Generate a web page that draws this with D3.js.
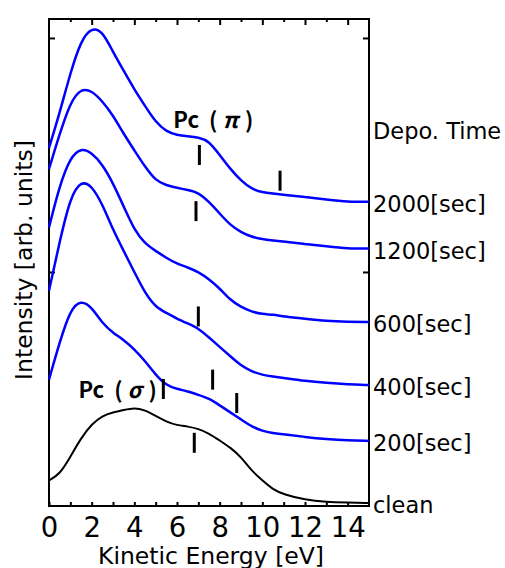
<!DOCTYPE html>
<html>
<head>
<meta charset="utf-8">
<script src="https://cdn.jsdelivr.net/npm/d3@7"></script>
<style>
body { margin: 0; background: #fff; }
text { font-family: "DejaVu Sans", sans-serif; fill: #000; }
</style>
</head>
<body>
<svg id="chart" width="505" height="568"></svg>
<script>
// kinetic energy grid [eV]
var energy = [0, 0.5, 1, 1.5, 2, 2.5, 3, 3.5, 4, 4.5, 5, 5.5, 6, 6.5, 7, 7.5, 8, 8.5, 9, 9.5, 10, 10.5, 11, 12, 13, 14, 15];

// intensities (offset stacked, arb. units)
var dep2000 = [1.53, 1.68, 1.85, 1.99, 2.045, 2.03, 1.94, 1.86, 1.78, 1.71, 1.64, 1.60, 1.585, 1.58, 1.575, 1.56, 1.50, 1.44, 1.39, 1.355, 1.34, 1.335, 1.33, 1.32, 1.31, 1.30, 1.30];
var dep1200 = [1.44, 1.59, 1.725, 1.785, 1.775, 1.73, 1.67, 1.59, 1.52, 1.45, 1.39, 1.37, 1.36, 1.35, 1.34, 1.30, 1.25, 1.20, 1.17, 1.15, 1.14, 1.135, 1.13, 1.12, 1.11, 1.10, 1.10];
var dep600  = [1.19, 1.37, 1.49, 1.53, 1.51, 1.46, 1.38, 1.28, 1.18, 1.12, 1.09, 1.06, 1.035, 1.02, 1.00, 0.97, 0.93, 0.88, 0.85, 0.83, 0.82, 0.818, 0.81, 0.80, 0.79, 0.787, 0.786];
var dep400  = [0.92, 1.13, 1.32, 1.39, 1.37, 1.29, 1.18, 1.09, 1.00, 0.91, 0.85, 0.825, 0.80, 0.78, 0.76, 0.72, 0.68, 0.64, 0.60, 0.575, 0.56, 0.553, 0.547, 0.534, 0.526, 0.52, 0.517];
var dep200  = [0.54, 0.70, 0.84, 0.88, 0.85, 0.78, 0.74, 0.71, 0.67, 0.62, 0.56, 0.515, 0.50, 0.49, 0.475, 0.46, 0.43, 0.40, 0.37, 0.34, 0.32, 0.312, 0.306, 0.295, 0.286, 0.28, 0.278];
var clean   = [0.11, 0.135, 0.21, 0.29, 0.35, 0.385, 0.40, 0.41, 0.42, 0.41, 0.385, 0.36, 0.345, 0.34, 0.33, 0.31, 0.28, 0.25, 0.21, 0.15, 0.11, 0.07, 0.05, 0.026, 0.017, 0.015, 0.013];

var seriesLabels = ["2000[sec]", "1200[sec]", "600[sec]", "400[sec]", "200[sec]", "clean"];
var seriesColors = ["#0000ff", "#0000ff", "#0000ff", "#0000ff", "#0000ff", "#000000"];

var xTickLabels = [0, 2, 4, 6, 8, 10, 12, 14];

// peak markers (short bars)
var markerEnergy    = [7.05, 10.83, 6.89, 7.00, 7.67, 8.80, 6.81, 5.36];
var markerIntensity = [1.50, 1.39, 1.26, 0.81, 0.54, 0.44, 0.27, 0.50];

// annotations: Pc(pi) and Pc(sigma)
var noteSymbol    = ["π", "σ"];
var noteEnergy    = [5.83, 1.38];
var noteIntensity = [1.614, 0.462];

var margin = {top: 19, right: 136, bottom: 62, left: 49};
var W = 505, H = 568;
var width = W - margin.left - margin.right;
var height = H - margin.top - margin.bottom;

var svg = d3.select("#chart");
var g = svg.append("g")
    .attr("transform", "translate(" + margin.left + "," + margin.top + ")");

var x = d3.scaleLinear().domain([0, 15]).range([0, width]);
var y = d3.scaleLinear().domain([0, 2.081]).range([height, 0]);

var series = [dep2000, dep1200, dep600, dep400, dep200, clean];

// axes, ticks pointing inward
var bottom = g.append("g")
    .attr("transform", "translate(0," + height + ")")
    .call(d3.axisBottom(x)
        .tickValues(d3.range(0, 15, 1))
        .tickSize(-4)
        .tickPadding(11)
        .tickFormat(function(d) { return xTickLabels.indexOf(d) >= 0 ? d : ""; }));
bottom.selectAll("text").attr("font-size", 27.5).attr("font-family", "DejaVu Sans");

g.append("g")
    .call(d3.axisTop(x).tickValues([1, 3, 5, 7, 9, 11, 13]).tickSize(-3).tickFormat(""));
g.append("g")
    .call(d3.axisTop(x).tickValues([2, 4, 6, 8, 10, 12, 14]).tickSize(-6).tickFormat(""));
g.append("g")
    .call(d3.axisLeft(y).tickValues([1, 2]).tickSize(-6).tickFormat(""));
g.append("g")
    .attr("transform", "translate(" + width + ",0)")
    .call(d3.axisRight(y).tickValues([1, 2]).tickSize(-6).tickFormat(""));

g.selectAll(".domain").remove();
g.selectAll(".tick line").attr("stroke", "#000").attr("stroke-width", 2);

g.append("rect")
    .attr("width", width)
    .attr("height", height)
    .attr("fill", "none")
    .attr("stroke", "#000")
    .attr("stroke-width", 2);

var line = d3.line()
    .x(function(d, i) { return x(energy[i]); })
    .y(function(d) { return y(d); })
    .curve(d3.curveBasis);

g.selectAll(".spec")
    .data(series)
    .enter()
    .append("path")
    .attr("class", "spec")
    .attr("d", line)
    .attr("fill", "none")
    .attr("stroke", function(d, i) { return seriesColors[i]; })
    .attr("stroke-width", function(d, i) { return i === 5 ? 2 : 2.5; });

// markers
g.selectAll(".mark")
    .data(markerEnergy)
    .enter()
    .append("line")
    .attr("class", "mark")
    .attr("x1", function(d) { return x(d); })
    .attr("x2", function(d) { return x(d); })
    .attr("y1", function(d, i) { return y(markerIntensity[i]) - 10; })
    .attr("y2", function(d, i) { return y(markerIntensity[i]) + 10; })
    .attr("stroke", "#000")
    .attr("stroke-width", 3);

// right-hand series labels
g.selectAll(".lab")
    .data(series)
    .enter()
    .append("text")
    .attr("class", "lab")
    .attr("x", width + 4)
    .attr("y", function(d) { return y(d[d.length - 1]) + 2; })
    .attr("dy", "0.36em")
    .attr("font-size", 22.5)
    .text(function(d, i) { return seriesLabels[i]; });

g.append("text")
    .attr("x", width + 4)
    .attr("y", 120)
    .attr("font-size", 22.5)
    .text("Depo. Time");

// Pc annotations
var notes = g.selectAll(".note")
    .data(noteSymbol)
    .enter()
    .append("text")
    .attr("class", "note")
    .attr("x", function(d, i) { return x(noteEnergy[i]); })
    .attr("y", function(d, i) { return y(noteIntensity[i]); })
    .attr("font-weight", "bold")
    .attr("font-size", 22)
    .style("font-family", "'Noto Sans CJK JP', 'Noto Sans', sans-serif");
notes.append("tspan").text("Pc");
notes.append("tspan").attr("dx", 10).text("(");
notes.append("tspan").attr("dx", 5).attr("font-style", "italic").text(function(d) { return d; });
notes.append("tspan").attr("dx", 7).text(")");

// axis titles
svg.append("text")
    .attr("x", margin.left + width / 2 + 2)
    .attr("y", 564)
    .attr("text-anchor", "middle")
    .attr("font-size", 23.5)
    .text("Kinetic Energy [eV]");

svg.append("text")
    .attr("transform", "translate(32," + (margin.top + 241) + ") rotate(-90)")
    .attr("text-anchor", "middle")
    .attr("font-size", 23.5)
    .text("Intensity [arb. units]");
</script>
</body>
</html>
